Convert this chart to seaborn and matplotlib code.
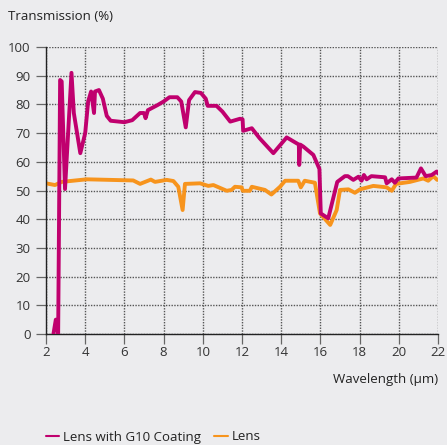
import numpy as np
import pandas as pd
import matplotlib
matplotlib.use("Agg")
import matplotlib.pyplot as plt
import seaborn as sns

# Lens with G10 Coating
coat_x = [2.38, 2.5, 2.62, 2.72, 2.8, 2.97, 3.3, 3.42, 3.75, 4.0, 4.15, 4.3, 4.45, 4.5, 4.7,
          4.9, 5.1, 5.3, 6.0, 6.4, 6.8, 7.0, 7.08, 7.2, 7.7, 8.0, 8.3, 8.7, 8.9, 9.13, 9.3,
          9.6, 9.9, 10.15, 10.25, 10.7, 11.0, 11.4, 11.9, 12.03, 12.06, 12.5, 12.9, 13.6,
          14.28, 14.9, 14.92, 14.97, 15.13, 15.64, 15.95, 16.02, 16.4, 16.86, 17.25, 17.4,
          17.68, 17.94, 18.1, 18.22, 18.36, 18.6, 19.3, 19.38, 19.64, 19.8, 19.98, 20.9,
          21.13, 21.37, 21.68, 21.93, 22.0]
coat_y = [0, 5, 0, 88.5, 88, 50.5, 91, 77, 63, 70, 81, 84.5, 77, 84.5, 85,
          82, 76, 74.3, 73.8, 74.5, 77, 77, 75.2, 78, 79.8, 81, 82.5, 82.5, 81, 72, 81.5,
          84.3, 84, 82, 79.5, 79.5, 77.5, 74, 75, 74.8, 70.8, 71.7, 68.2, 63,
          68.5, 66, 58.9, 66, 65.3, 62.4, 57.5, 42, 40.3, 53, 55, 55,
          53.7, 54.8, 53.4, 55.4, 53.9, 55, 54.6, 52.5, 53.9, 52.7, 54.2, 54.5,
          57.7, 55, 55.4, 56.6, 56]

# Lens
lens_x = [2.0, 2.46, 2.8, 4.08, 6.45, 6.8, 7.35, 7.56, 8.16, 8.5, 8.75, 8.97, 9.09, 9.86,
          10.28, 10.54, 11.22, 11.47, 11.64, 11.98, 12.04, 12.4, 12.5, 13.17, 13.5, 13.94,
          14.2, 14.87, 15.0, 15.2, 15.72, 15.98, 16.5, 16.83, 17.0, 17.43, 17.76, 18.02, 18.7,
          19.38, 19.64, 19.86, 20.57, 21.25, 21.5, 21.76, 21.96]
lens_y = [52.5, 51.9, 53, 53.9, 53.5, 52.3, 53.8, 53, 53.7, 53.3, 51.3, 43.2, 52.3, 52.5,
          51.6, 51.9, 49.9, 50.2, 51.3, 51.1, 49.9, 49.9, 51.3, 50.2, 48.6, 51.3,
          53.4, 53.4, 51.1, 53.4, 52.7, 42, 38, 43.2, 50.2, 50.4, 49.2, 50.4, 51.6,
          51.1, 49.9, 52.3, 53, 54.2, 53.4, 55, 53.7]

series_names = ["Lens with G10 Coating", "Lens"]
x_ticks = [2, 4, 6, 8, 10, 12, 14, 16, 18, 20, 22]
y_ticks = [0, 10, 20, 30, 40, 50, 60, 70, 80, 90, 100]

df = pd.concat([
    pd.DataFrame({"x": coat_x, "y": coat_y, "s": series_names[0]}),
    pd.DataFrame({"x": lens_x, "y": lens_y, "s": series_names[1]}),
], ignore_index=True)

sns.set_theme(style="ticks")
plt.rcParams["font.family"] = ["Open Sans", "DejaVu Sans"]
plt.rcParams["lines.solid_joinstyle"] = "round"
bg = "#ececee"
W, H = 447, 445
fig = plt.figure(figsize=(W / 100, H / 100), dpi=100, facecolor=bg)
ax = fig.add_axes([46 / W, 1 - 334 / H, (438 - 46) / W, (334 - 47) / H], facecolor=bg)

palette = {series_names[0]: "#c0006e", series_names[1]: "#f7941d"}
for name in [series_names[1], series_names[0]]:
    sns.lineplot(data=df[df.s == name], x="x", y="y", color=palette[name], lw=2.8,
                 ax=ax, sort=False, estimator=None, label=name,
                 zorder=3 if name == series_names[0] else 2)

ax.set_xlim(2, 22)
ax.set_ylim(0, 100)
ax.set_xticks(x_ticks)
ax.set_yticks(y_ticks)
ax.set_xlabel("")
ax.set_ylabel("")
ax.set_axisbelow(True)
ax.xaxis.grid(True, color="#555555", linestyle=(0, (1.0, 1.0)), linewidth=1.0)
ax.yaxis.grid(True, color="#555555", linestyle=(0, (1.0, 1.0)), linewidth=1.0)
for s in ["top", "right"]:
    ax.spines[s].set_visible(False)
for s in ["left", "bottom"]:
    ax.spines[s].set_visible(True)
    ax.spines[s].set_color("#222222")
    ax.spines[s].set_linewidth(1.0)
ax.tick_params(axis="both", which="both", direction="out", length=7, width=0.9,
               color="#666666", labelsize=9.5, labelcolor="#333333", pad=2,
               bottom=True, left=True, top=False, right=False)
ax.tick_params(axis="y", pad=4)
ax.get_legend().remove()

fig.text(8 / W, 1 - 17 / H, "Transmission (%)", ha="left", va="center", fontsize=9.5, color="#222222")
fig.text(438 / W, 1 - 380 / H, "Wavelength (µm)", ha="right", va="center", fontsize=9.5, color="#222222")

handles = [plt.Line2D([], [], color=palette[n], lw=1.5) for n in series_names]
fig.legend(handles, series_names, loc="center left", bbox_to_anchor=(46 / W, 1 - 437 / H), ncol=2,
           frameon=False, handlelength=1.0, handletextpad=0.3, columnspacing=1.0, fontsize=9.5,
           labelcolor="#222222", borderaxespad=0, borderpad=0)

fig.savefig("out.png", dpi=100, facecolor=bg)
